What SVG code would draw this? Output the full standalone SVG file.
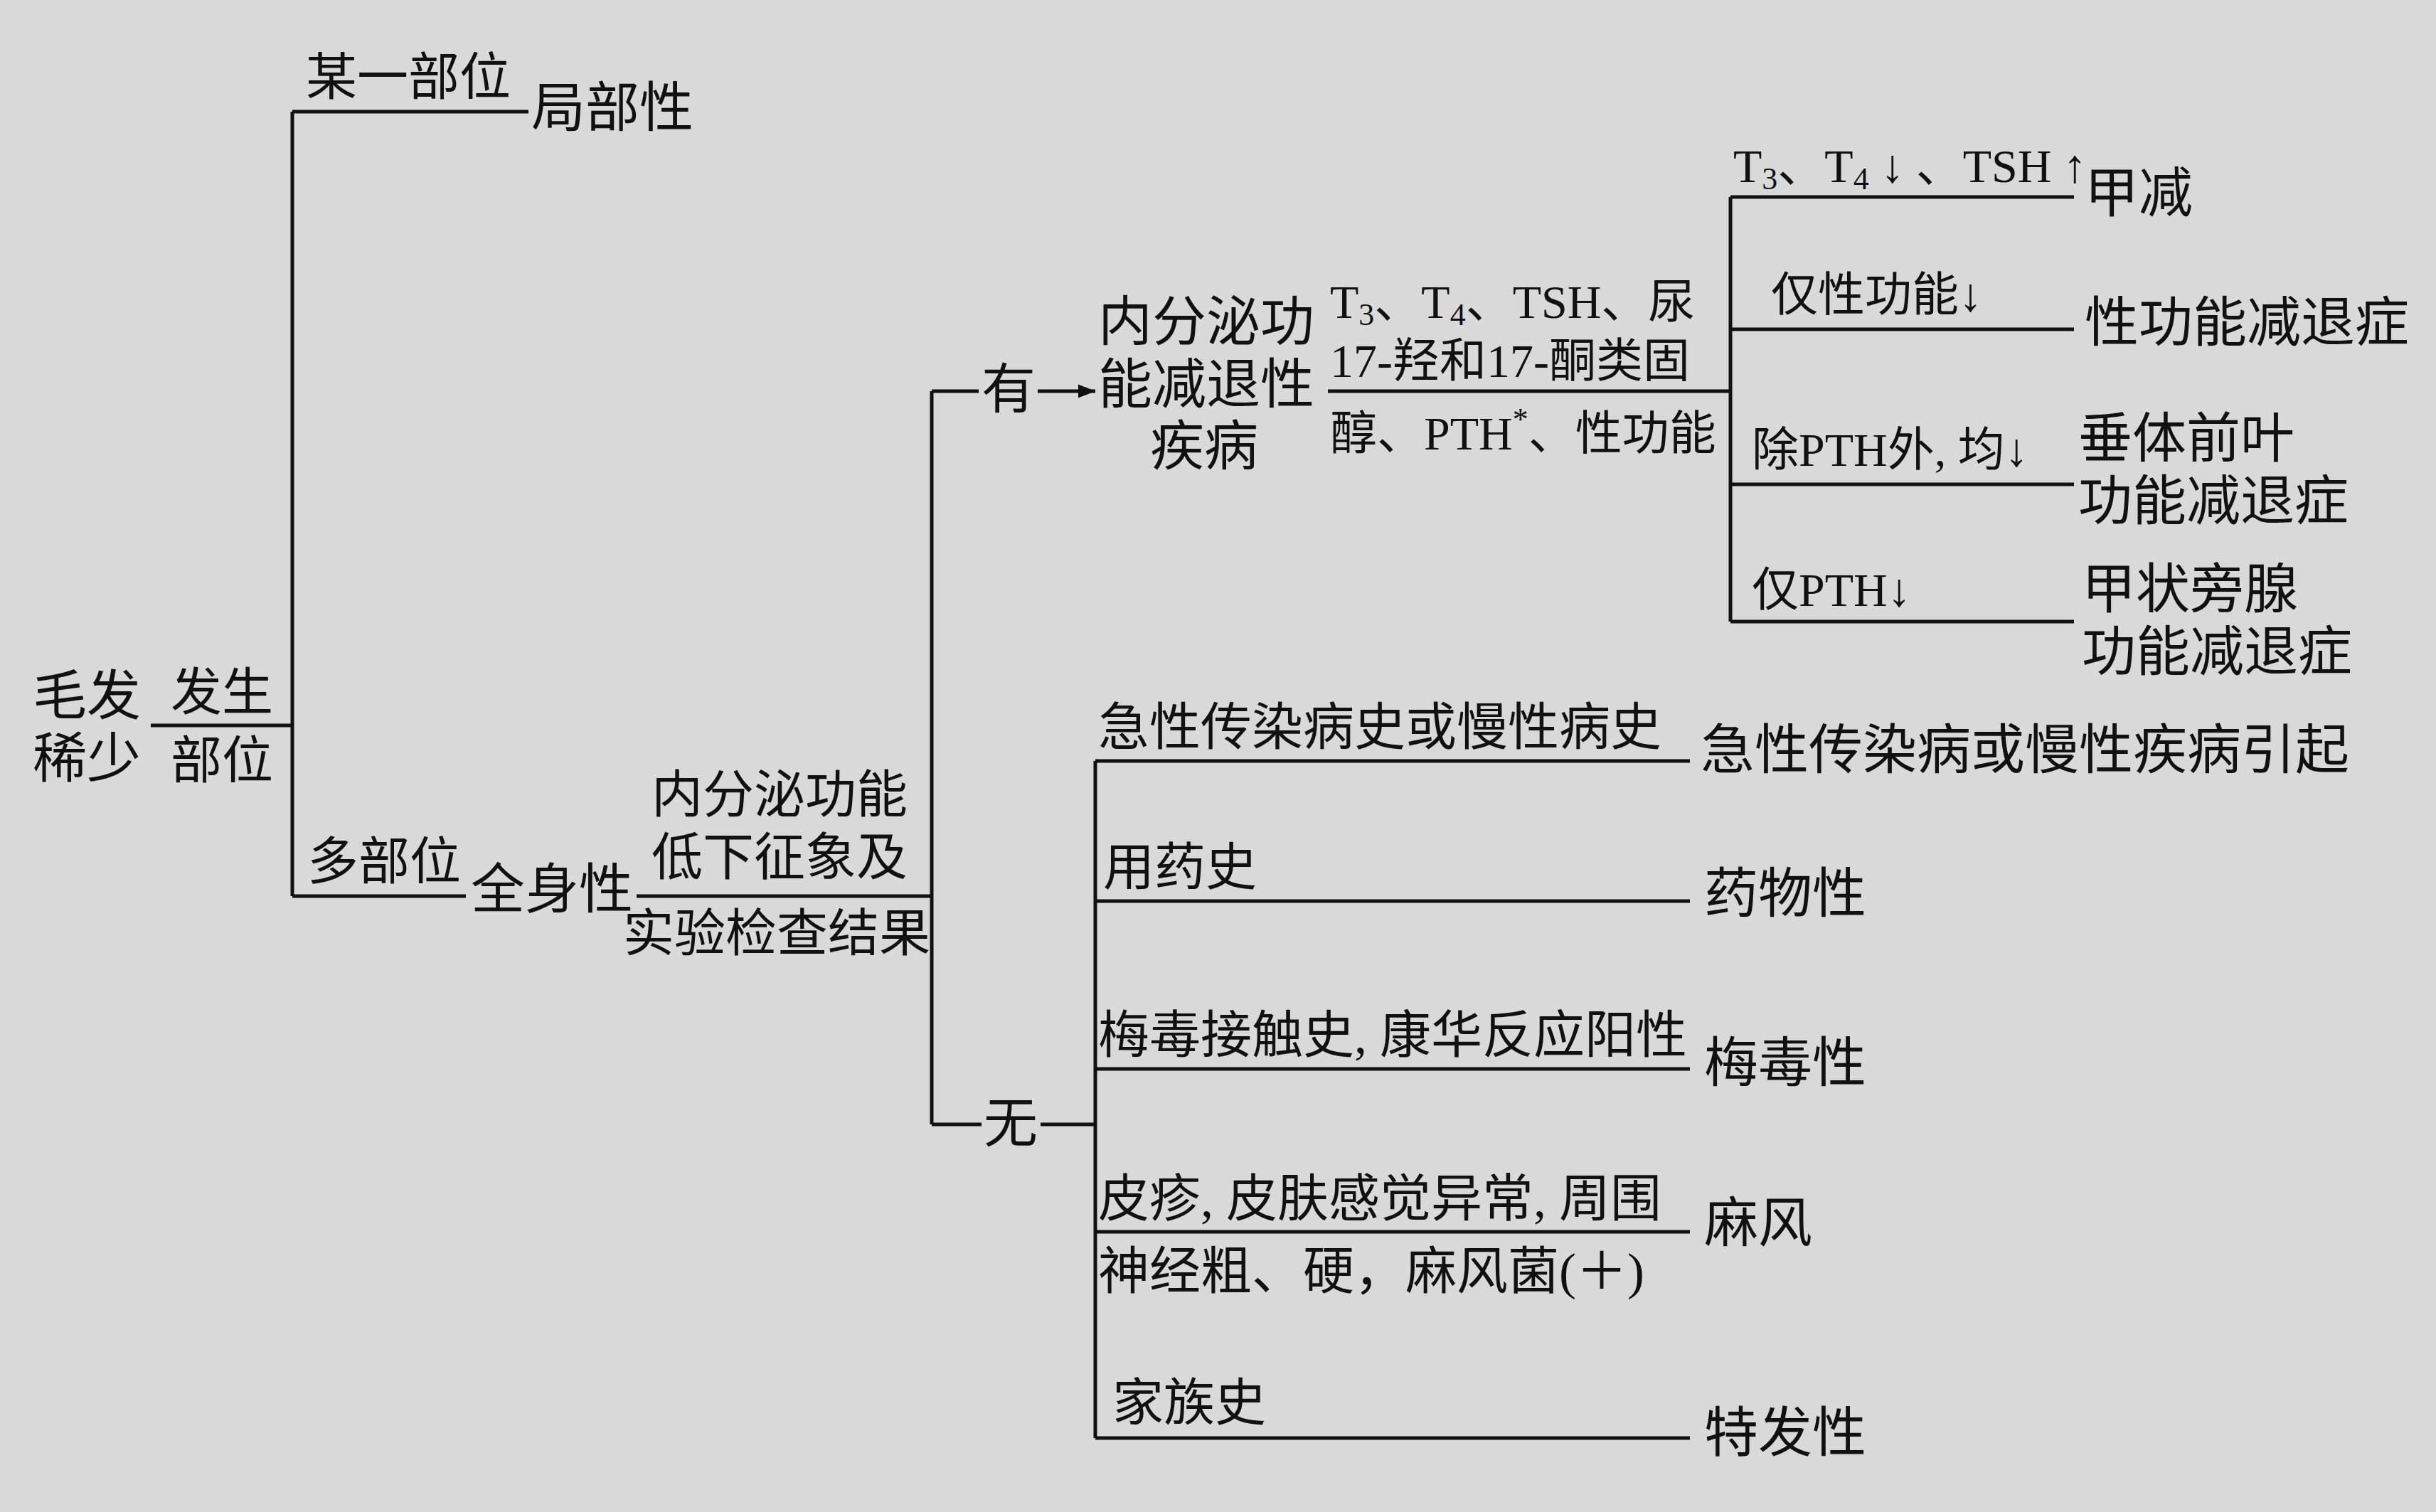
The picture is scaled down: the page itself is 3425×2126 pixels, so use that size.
<svg xmlns="http://www.w3.org/2000/svg" width="3425" height="2126" viewBox="0 0 3425 2126">
<style>
text{font-family:"Liberation Serif","Noto Sans CJK SC",serif;fill:#111;font-size:72px}
.s{font-size:66px}
.b{font-size:76px}
.sub{font-size:44px}
line{stroke:#111;stroke-width:5}
</style>
<defs><marker id="ah" viewBox="0 0 10 10" refX="10" refY="5" markerWidth="6" markerHeight="6" markerUnits="userSpaceOnUse" orient="auto"><path d="M0,1 L10,5 L0,9 z" fill="#111"/></marker>
<marker id="a2" viewBox="0 0 10 10" refX="10" refY="5" markerWidth="30" markerHeight="24" markerUnits="userSpaceOnUse" orient="auto"><path d="M0,1 L10,5 L0,9 z" fill="#111"/></marker></defs>
<rect width="3425" height="2126" fill="#d9d9d9"/>
<g id="connectors">
<line x1="212" y1="1020" x2="411" y2="1020"/>
<line x1="411" y1="157" x2="411" y2="1260"/>
<line x1="411" y1="157" x2="743" y2="157"/>
<line x1="411" y1="1260" x2="655" y2="1260"/>
<line x1="895" y1="1260" x2="1310" y2="1260"/>
<line x1="1310" y1="550" x2="1310" y2="1581"/>
<line x1="1310" y1="550" x2="1376" y2="550"/>
<line x1="1459" y1="550" x2="1540" y2="550" marker-end="url(#a2)"/>
<line x1="1310" y1="1581" x2="1380" y2="1581"/>
<line x1="1463" y1="1581" x2="1540" y2="1581"/>
<line x1="1867" y1="550" x2="2433" y2="550"/>
<line x1="2433" y1="277" x2="2433" y2="874"/>
<line x1="2433" y1="277" x2="2916" y2="277"/>
<line x1="2433" y1="463" x2="2916" y2="463"/>
<line x1="2433" y1="681" x2="2916" y2="681"/>
<line x1="2433" y1="874" x2="2916" y2="874"/>
<line x1="1540" y1="1070" x2="1540" y2="2022"/>
<line x1="1540" y1="1070" x2="2376" y2="1070"/>
<line x1="1540" y1="1267" x2="2376" y2="1267"/>
<line x1="1540" y1="1503" x2="2376" y2="1503"/>
<line x1="1540" y1="1732" x2="2376" y2="1732"/>
<line x1="1540" y1="2022" x2="2376" y2="2022"/>
</g>
<g id="root"><text x="46" y="1005" class="b">毛发</text><text x="46" y="1093" class="b">稀少</text></g>
<g id="l-fasheng"><text x="240" y="998">发生</text><text x="240" y="1094">部位</text></g>
<g id="n-jubu"><text x="430" y="133">某一部位</text><text x="747" y="178" class="b">局部性</text></g>
<g id="n-quanshen"><text x="432" y="1236">多部位</text><text x="662" y="1277" class="b">全身性</text></g>
<g id="l-neifen" text-anchor="middle"><text x="1096" y="1142">内分泌功能</text><text x="1096" y="1230">低下征象及</text><text x="1092" y="1337">实验检查结果</text></g>
<g id="n-you"><text x="1380" y="574" class="b">有</text></g>
<g id="n-wu"><text x="1383" y="1606" class="b">无</text></g>
<g id="n-jibing"><text x="1544" y="479" class="b">内分泌功</text><text x="1544" y="567" class="b">能减退性</text><text x="1693" y="654" class="b" text-anchor="middle">疾病</text></g>
<g id="l-tests" class="s"><text x="1870" y="447" class="s">T<tspan class="sub" dy="10">3</tspan><tspan dy="-10">、T</tspan><tspan class="sub" dy="10">4</tspan><tspan dy="-10">、TSH、尿</tspan></text>
<text x="1870" y="530" class="s">17-羟和17-酮类固</text>
<text x="1870" y="632" class="s">醇、PTH<tspan class="sub" dy="-28">*</tspan><tspan dy="28">、性功能</tspan></text></g>
<g id="n-jiajian"><text x="2437" y="256" class="s">T<tspan class="sub" dy="10">3</tspan><tspan dy="-10">、T</tspan><tspan class="sub" dy="10">4</tspan><tspan dy="-10"> ↓ 、TSH ↑</tspan></text><text x="2931" y="298" class="b">甲减</text></g>
<g id="n-xing"><text x="2490" y="437" class="s">仅性功能↓</text><text x="2931" y="480" class="b">性功能减退症</text></g>
<g id="n-chuiti"><text x="2463" y="655" class="s">除PTH外, 均↓</text><text x="2922" y="643" class="b">垂体前叶</text><text x="2922" y="731" class="b">功能减退症</text></g>
<g id="n-pang"><text x="2463" y="852" class="s">仅PTH↓</text><text x="2927" y="855" class="b">甲状旁腺</text><text x="2927" y="943" class="b">功能减退症</text></g>
<g id="n-jixing"><text x="1544" y="1047">急性传染病史或慢性病史</text><text x="2391" y="1081" class="b">急性传染病或慢性疾病引起</text></g>
<g id="n-yaowu"><text x="1551" y="1244">用药史</text><text x="2396" y="1283" class="b">药物性</text></g>
<g id="n-meidu"><text x="1544" y="1480">梅毒接触史, 康华反应阳性</text><text x="2396" y="1521" class="b">梅毒性</text></g>
<g id="n-mafeng"><text x="1544" y="1710">皮疹, 皮肤感觉异常, 周围</text><text x="1544" y="1812">神经粗、硬，麻风菌(＋)</text><text x="2396" y="1746" class="b">麻风</text></g>
<g id="n-tefa"><text x="1564" y="1997">家族史</text><text x="2396" y="2041" class="b">特发性</text></g>
</svg>
